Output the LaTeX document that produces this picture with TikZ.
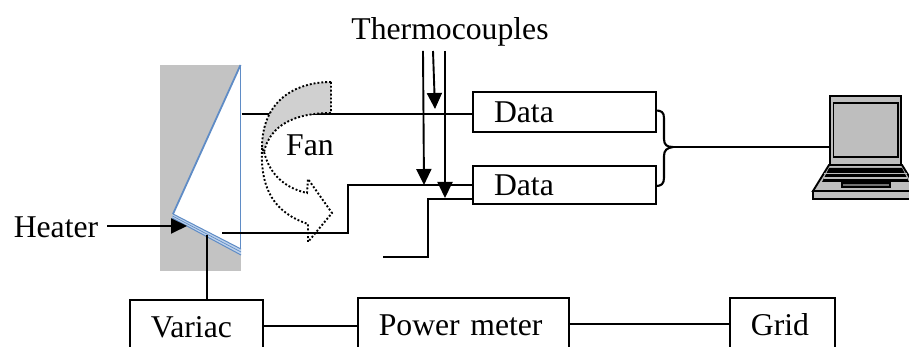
\documentclass[tikz,border=0pt]{standalone}
\usepackage{fontspec}
\setmainfont{Liberation Serif}
\usepackage{tikz}
\usetikzlibrary{arrows.meta, positioning}
\usepackage{xcolor}
\definecolor{wallgrey}{RGB}{195,195,195}
\definecolor{fangrey}{RGB}{208,208,208}
\definecolor{laptopgrey}{RGB}{190,190,190}
\definecolor{plateblue}{RGB}{95,140,198}
\definecolor{stripblue}{RGB}{190,210,235}
\tikzset{blockbox/.style={draw=black, line width=1.9pt, inner xsep=21pt, inner ysep=0pt, outer sep=0pt, align=left},
    wirearrow/.style={line width=1.9pt, -{Triangle[width=15pt, length=16pt]}},
    wire/.style={line width=2.1pt},
    fandots/.style={line width=1.9pt, dash pattern=on 1.9pt off 2pt},
    laptopline/.style={draw=black, fill=laptopgrey, line width=1.9pt}}

\begin{document}
\begin{tikzpicture}[font=\fontsize{31.7}{36}\selectfont]
        \useasboundingbox (0pt, 0pt) rectangle (909pt, 347pt);
        \clip (0pt, 0pt) rectangle (909pt, 347pt);
        % Wall and plate
        \fill[wallgrey] (160pt, 75.5pt) rectangle (241pt, 282pt);
        \fill[white] (240.5pt, 282pt) -- (173pt, 133pt) -- (240.5pt, 98pt) -- cycle;
        \draw[plateblue, line width=0.7pt] (240.5pt, 282pt) -- (240.5pt, 94pt);
        \draw[plateblue, line width=1.8pt] (240.5pt, 282pt) -- (173pt, 133pt);
        \fill[stripblue] (173pt, 133pt) -- (241pt, 98pt) -- (241pt, 92pt) -- (172pt, 129pt) -- cycle;
        \draw[plateblue, line width=1pt] (173pt, 133pt) -- (241pt, 98pt);
        \draw[plateblue, line width=0.7pt] (172.5pt, 131pt) -- (241pt, 95pt);
        \draw[plateblue, line width=1pt] (172pt, 129pt) -- (241pt, 92pt);
        % Boxes
        \node[blockbox, text height=20.5pt, text depth=0pt, minimum height=40pt, text width=141pt] (dataone) at (564.5pt, 235pt) {Data};
        \node[blockbox, text height=20.5pt, text depth=0pt, minimum height=38pt, text width=141pt] (datatwo) at (564.5pt, 162pt) {Data};
        \node[blockbox, text height=24pt, text depth=0pt, minimum height=51.4pt, text width=90.7pt] (variac) at (196.3pt, 21.3pt) {Variac};
        \node[blockbox, text height=23pt, text depth=0pt, minimum height=52pt, text width=169pt] (power) at (463.3pt, 23.3pt) {Power meter};
        \node[blockbox, text height=23pt, text depth=0pt, minimum height=52pt, text width=62.7pt] (grid) at (782.3pt, 23.3pt) {Grid};
        % Labels
        \node (thermo) at (450pt, 315pt) {Thermocouples};
        \node (fan) at (310pt, 202pt) {Fan};
        \node[inner sep=0pt] (heater) at (56pt, 120pt) {Heater};
        % Free ends
        \coordinate (platetop) at (241.5pt, 233pt);
        \coordinate (datatopin) at (473pt, 233pt);
        \coordinate (platelow) at (222pt, 114pt);
        \coordinate (bendlow) at (348pt, 162pt);
        \coordinate (probeend) at (383pt, 90pt);
        \coordinate (probein) at (473pt, 148pt);
        \coordinate (heatertip) at (187pt, 121pt);
        \coordinate (platefeed) at (207pt, 112pt);
        % Wires
        \draw[wire] (platetop) -- (datatopin);
        \draw[wire] (platelow) -| (bendlow) -- (datatwo.west);
        \draw[wire] (probeend) -| (428pt, 148pt) -- (probein);
        \draw[wire] (platefeed) -- (platefeed |- variac.north);
        \draw[wire] (variac.east) -- (power.west |- variac.east);
        \draw[wire] (power.east |- grid.west) -- (grid.west);
        % Brace and laptop
        \coordinate (bracetip) at (673pt, 200pt);
        \draw[wire, line join=round] (656pt, 236.5pt) .. controls (661pt, 236.5pt) and (664pt, 235pt) .. (664pt, 229pt) -- (664pt, 208pt) .. controls (664pt, 202pt) and (667pt, 200pt) .. (bracetip) .. controls (667pt, 199pt) and (664pt, 197pt) .. (664pt, 191pt) -- (664pt, 169pt) .. controls (664pt, 163pt) and (661pt, 161pt) .. (656pt, 161pt);
        \node[laptopline, rectangle, minimum width=71pt, minimum height=69pt, outer sep=0pt] (laptop) at (865.5pt, 216.5pt) {};
        \draw[wire] (bracetip) -- (laptop.west |- bracetip);
        \draw[laptopline] (833.5pt, 190pt) rectangle (898pt, 244pt);
        \draw[laptopline] (813pt, 156pt) -- (829pt, 182pt) -- (902pt, 182pt) -- (918pt, 156pt) -- cycle;
        \draw[laptopline] (813pt, 148pt) rectangle (918pt, 156pt);
        \fill[black] (822pt, 165pt) -- (829pt, 179pt) -- (902pt, 179pt) -- (909pt, 165pt) -- cycle;
        \foreach \y in {169pt, 173.5pt} {
            \draw[laptopgrey, line width=1.3pt] (824pt, \y) -- (907pt, \y);
        }
        \draw[laptopline, fill=laptopgrey!60!black] (842pt, 160pt) rectangle (890pt, 164pt);
        % Fan
        \filldraw[fangrey, draw=black, fandots] (331pt, 265pt) .. controls (296pt, 265pt) and (262pt, 247pt) .. (262pt, 199pt) -- (264pt, 195pt) .. controls (270pt, 222pt) and (295pt, 234pt) .. (331pt, 234pt) -- cycle;
        \draw[fandots] (262pt, 199pt) .. controls (260pt, 157pt) and (275pt, 134pt) .. (308pt, 123pt) -- (308pt, 105pt) -- (332pt, 134pt) -- (308pt, 168pt) -- (307pt, 154pt) .. controls (285pt, 159pt) and (270pt, 172pt) .. (264pt, 195pt);
        % Arrows
        \draw[wirearrow] (423pt, 296pt) -- (424pt, 162pt);
        \draw[wirearrow] (433pt, 296pt) -- (435pt, 238pt);
        \draw[wirearrow] (445pt, 296pt) -- (445pt, 149pt);
        \draw[wirearrow, shorten <=9pt] (heater.east |- heatertip) -- (heatertip);
\end{tikzpicture}
\end{document}
